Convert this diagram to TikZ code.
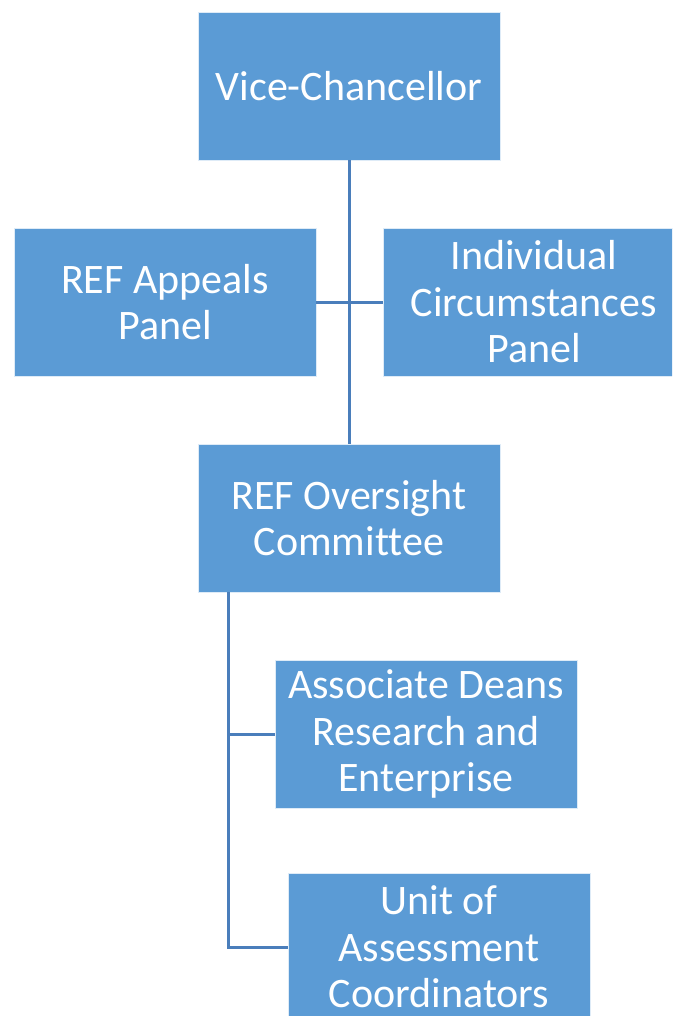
\documentclass[tikz,border=0pt]{standalone}
\usepackage{fontspec}
\setmainfont[Ligatures=NoCommon]{Carlito}
\definecolor{boxblue}{HTML}{5B9BD5}
\definecolor{linkblue}{HTML}{4A7EBB}
\begin{document}
\begin{tikzpicture}[x=1pt,y=-1pt,
  orgbox/.style={rectangle, fill=boxblue, draw=white!80!boxblue, line width=0.6pt,
    minimum width=302pt, minimum height=148pt, inner sep=0pt, text=white,
    align=center, font=\fontsize{42}{46.5}\selectfont},
  link/.style={draw=linkblue, line width=3pt}]
\useasboundingbox (0,0) rectangle (672,1016);
\clip (0,0) rectangle (672,1016);
\node[orgbox] (vc) at (349,86) {Vice-Chancellor};
\node[orgbox] (app) at (165,302) {REF Appeals\\Panel};
\node[orgbox] (ind) at (534,302) {Individual\\Circumstances\\Panel};
\node[orgbox] (ovs) at (349,518) {REF Oversight\\Committee};
\node[orgbox] (ade) at (426,734) {Associate Deans\\Research and\\Enterprise};
\node[orgbox] (uoa) at (439,947) {Unit of\\Assessment\\Coordinators};
\coordinate (trunk) at (228,592);
\coordinate (b1) at (228,734);
\coordinate (b2) at (228,947);
\draw[link] (vc.south) -- (ovs.north);
\draw[link] (app.east) -- (ind.west);
\draw[link] (trunk) -- (b2) -- (uoa.west);
\draw[link] (b1) -- (ade.west);
\end{tikzpicture}
\end{document}
